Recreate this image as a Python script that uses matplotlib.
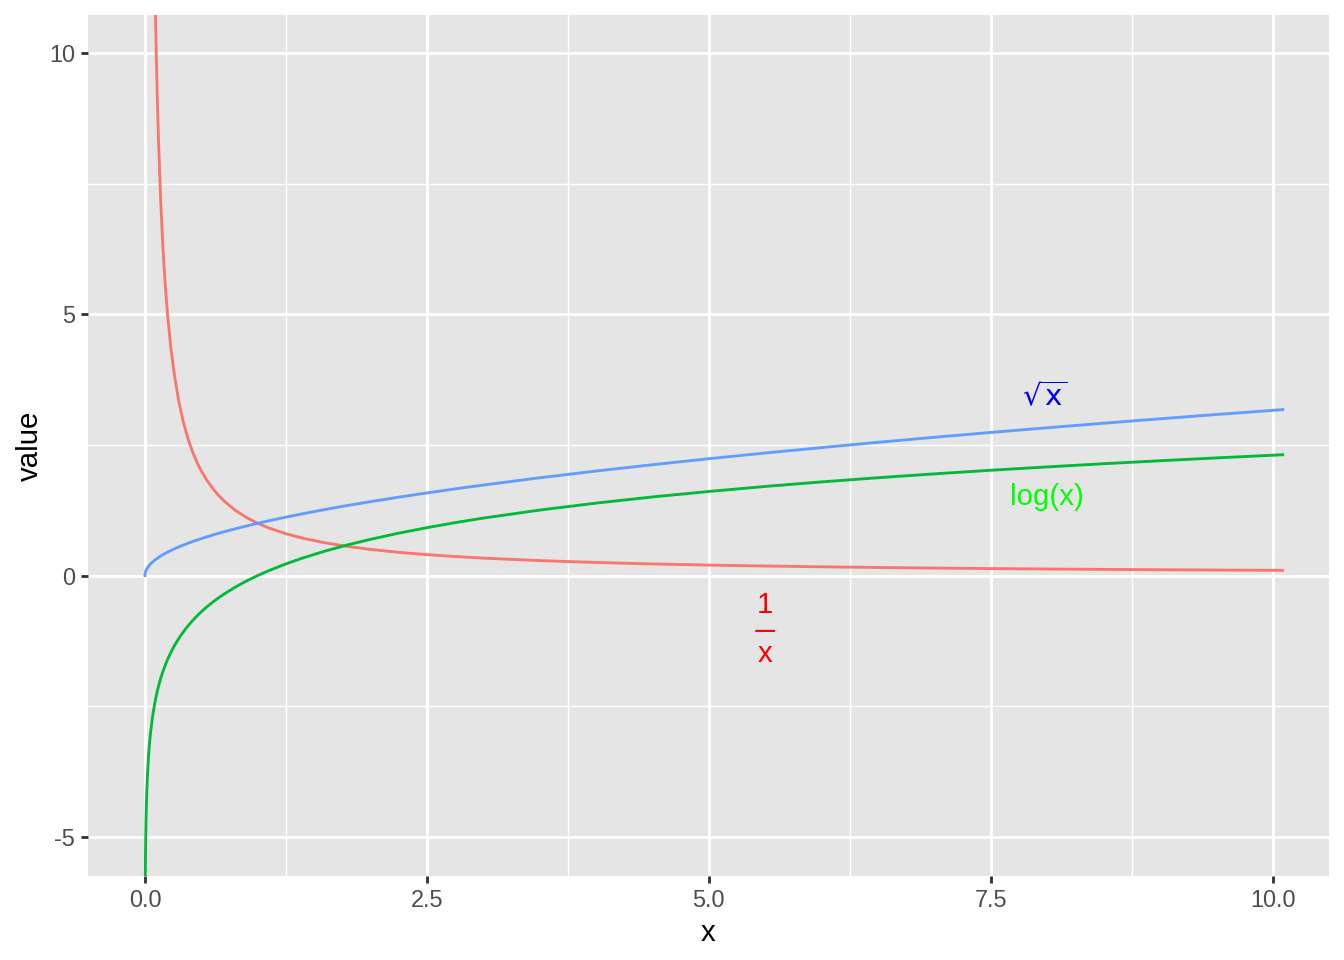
import numpy as np
import matplotlib
matplotlib.use("Agg")
import matplotlib.pyplot as plt

plt.rcParams['font.family'] = ['Liberation Sans', 'DejaVu Sans']
plt.rcParams['mathtext.fontset'] = 'custom'
plt.rcParams['mathtext.rm'] = 'Liberation Sans'
plt.rcParams['mathtext.it'] = 'Liberation Sans'
plt.rcParams['mathtext.sf'] = 'Liberation Sans'

# ---- data ----
x_vals = [0, 0.003, 0.005, 0.007, 0.01, 0.015, 0.02, 0.03, 0.04, 0.05, 0.07, 0.09,
          0.1, 0.11, 0.12, 0.14, 0.16, 0.18, 0.2, 0.23, 0.26, 0.3, 0.34, 0.38, 0.42,
          0.46, 0.5, 0.55, 0.6, 0.65, 0.7, 0.8, 0.9, 1.0, 1.1, 1.25, 1.4, 1.6, 1.8,
          2.0, 2.25, 2.5, 2.75, 3.0, 3.5, 4.0, 4.5, 5.0, 5.5, 6.0, 6.5, 7.0, 7.5,
          8.0, 8.5, 9.0, 9.5, 10.09]

sqrt_vals = [0, 0.055, 0.071, 0.084, 0.1, 0.122, 0.141, 0.173, 0.2, 0.224, 0.265, 0.3,
             0.316, 0.332, 0.346, 0.374, 0.4, 0.424, 0.447, 0.48, 0.51, 0.548, 0.583,
             0.616, 0.648, 0.678, 0.707, 0.742, 0.775, 0.806, 0.837, 0.894, 0.949, 1.0,
             1.049, 1.118, 1.183, 1.265, 1.342, 1.414, 1.5, 1.581, 1.658, 1.732, 1.871,
             2.0, 2.121, 2.236, 2.345, 2.449, 2.55, 2.646, 2.739, 2.828, 2.915, 3.0,
             3.082, 3.176]

log_vals = [np.nan, -5.809, -5.298, -4.962, -4.605, -4.2, -3.912, -3.507, -3.219, -2.996,
            -2.659, -2.408, -2.303, -2.207, -2.12, -1.966, -1.833, -1.715, -1.609, -1.47,
            -1.347, -1.204, -1.079, -0.968, -0.868, -0.777, -0.693, -0.598, -0.511,
            -0.431, -0.357, -0.223, -0.105, 0.0, 0.095, 0.223, 0.336, 0.47, 0.588, 0.693,
            0.811, 0.916, 1.012, 1.099, 1.253, 1.386, 1.504, 1.609, 1.705, 1.792, 1.872,
            1.946, 2.015, 2.079, 2.14, 2.197, 2.251, 2.312]

inv_vals = [np.nan, 333.3, 200.0, 142.9, 100.0, 66.7, 50.0, 33.3, 25.0, 20.0, 14.29, 11.11,
            10.0, 9.09, 8.33, 7.14, 6.25, 5.56, 5.0, 4.35, 3.85, 3.33, 2.94, 2.63, 2.38,
            2.17, 2.0, 1.82, 1.67, 1.54, 1.43, 1.25, 1.11, 1.0, 0.909, 0.8, 0.714, 0.625,
            0.556, 0.5, 0.444, 0.4, 0.364, 0.333, 0.286, 0.25, 0.222, 0.2, 0.182, 0.167,
            0.154, 0.143, 0.133, 0.125, 0.118, 0.111, 0.105, 0.099]

x_ticks = [0.0, 2.5, 5.0, 7.5, 10.0]
x_tick_labels = ["0.0", "2.5", "5.0", "7.5", "10.0"]
y_ticks = [-5, 0, 5, 10]
y_tick_labels = ["-5", "0", "5", "10"]

# labels: (x, y, text, colour)
sqrt_label = (7.98, 3.42, r'$\sqrt{\mathrm{x}}$', '#0000FF')
log_label = (8.0, 1.5, 'log(x)', '#00FF00')
frac_label = (5.5, -1.06, '1', 'x', '#FF0000')

# ---- figure ----
fig = plt.figure(figsize=(7, 5), dpi=192)
ax = fig.add_axes([0.0655, 0.0878, 0.9233, 0.8966])
ax.set_facecolor('#E5E5E5')

x = np.array(x_vals)
lw = 1.07
ax.plot(x, inv_vals, color='#F8766D', lw=lw, zorder=3)
ax.plot(x, log_vals, color='#00BA38', lw=lw, zorder=3)
ax.plot(x, sqrt_vals, color='#619CFF', lw=lw, zorder=3)

sx, sy, ss, sc = sqrt_label
ax.text(sx, sy, ss, color=sc, fontsize=11, ha='center', va='center', zorder=4,
        math_fontfamily='dejavusans')
lx, ly, ls_, lc = log_label
ax.text(lx, ly, ls_, color=lc, fontsize=11, ha='center', va='center', zorder=4)

fx, fy, num, den, fc = frac_label
ax.annotate(num, (fx, fy), xytext=(0, 9.6), textcoords='offset points',
            color=fc, fontsize=11, ha='center', va='center', zorder=4)
ax.annotate(den, (fx, fy), xytext=(0, -8.6), textcoords='offset points',
            color=fc, fontsize=11, ha='center', va='center', zorder=4)
ax.annotate('', (fx, fy), xytext=(-3.4, 0), textcoords='offset points',
            arrowprops=dict(arrowstyle='-', color=fc, lw=0.8,
                            shrinkA=0, shrinkB=0), zorder=4)
ax.annotate('', (fx, fy), xytext=(3.4, 0), textcoords='offset points',
            arrowprops=dict(arrowstyle='-', color=fc, lw=0.8,
                            shrinkA=0, shrinkB=0), zorder=4)

ax.set_xlim(-0.505, 10.5)
ax.set_ylim(-5.746, 10.73)

ax.set_xticks(x_ticks)
ax.set_xticklabels(x_tick_labels)
ax.set_yticks(y_ticks)
ax.set_yticklabels(y_tick_labels)
ax.set_xticks([1.25, 3.75, 6.25, 8.75], minor=True)
ax.set_yticks([-2.5, 2.5, 7.5], minor=True)

ax.grid(which='major', color='white', lw=1.07, zorder=1)
ax.grid(which='minor', color='white', lw=0.53, zorder=1)
ax.set_axisbelow(True)

for sp in ax.spines.values():
    sp.set_visible(False)

ax.tick_params(which='major', length=2.75, width=1.07, color='#333333',
               labelcolor='#4D4D4D', labelsize=8.8, pad=2.2)
ax.tick_params(which='minor', length=0)

ax.set_xlabel('x', fontsize=11, color='black', labelpad=2.5)
ax.set_ylabel('value', fontsize=11, color='black', labelpad=2)

fig.savefig('out.png', dpi=192)
